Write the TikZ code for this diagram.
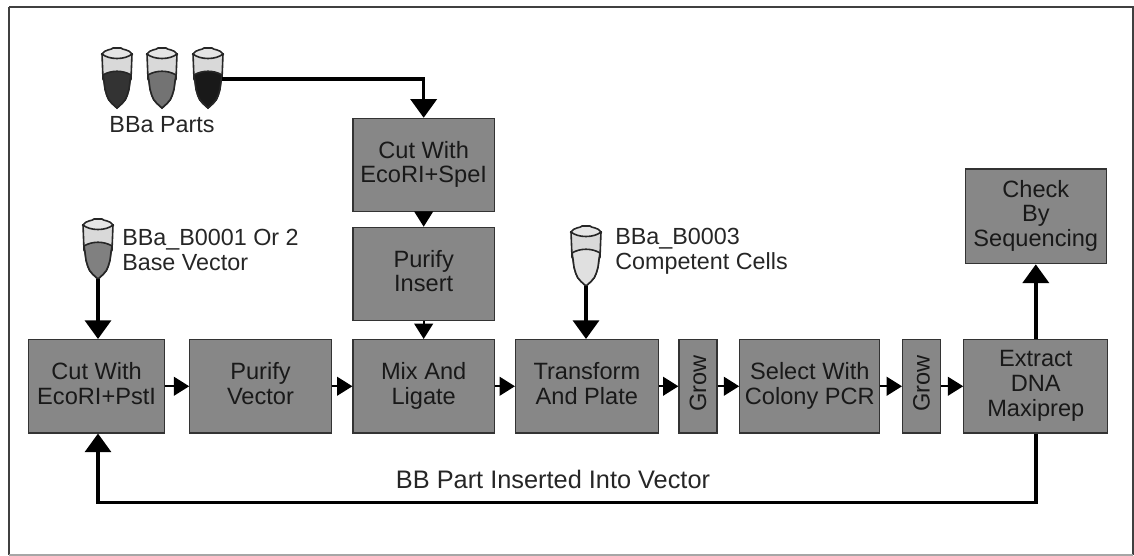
\documentclass[tikz,border=0pt]{standalone}
\usepackage{fontspec}
\setmainfont{Liberation Sans}
\usetikzlibrary{positioning}
\usetikzlibrary{arrows.meta}

\tikzset{
    pics/tube/.style={code={
        \draw[black!85, line width=1.2pt, fill=black!15] (-15,7) -- (-14,32) -- (-13,34) -- (-12,42) .. controls (-9,53) .. (0,61)
            .. controls (9,53) .. (12,42) -- (13,34) -- (14,32) -- (15,7) -- cycle;
        \draw[black!85, line width=1.2pt, fill=#1] (-14,28) .. controls (-6,23) and (6,23) .. (14,28) -- (13,34) -- (12,42)
            .. controls (9,53) .. (0,61) .. controls (-9,53) .. (-12,42) -- (-13,34) -- cycle;
        \draw[black!85, line width=1.2pt, fill=black!10] (-15,7) .. controls (-12,2) and (-5,3) .. (-4,1) -- (4,1)
            .. controls (5,3) and (12,2) .. (15,7) .. controls (8,13) and (-8,13) .. (-15,7) -- cycle;
        \coordinate (-side) at (14,32);
        \coordinate (-tip) at (0,61);
    }}
}

\begin{document}
\begin{tikzpicture}[x=0.75pt, y=-0.75pt,
    Step/.style={rectangle, draw=black!80, fill=black!47, line width=0.9pt, minimum height=70pt, minimum width=106pt,
                 text=black!90, text depth=4.5pt, align=center, font=\fontsize{17.7}{18.5}\selectfont},
    Note/.style={text=black!85, align=left, inner sep=0pt, font=\fontsize{17.5}{18.5}\selectfont},
    Big/.style={-{Triangle[width=19.5pt, length=14pt]}, black, line width=2.6pt},
    Small/.style={-{Triangle[width=14pt, length=11.5pt]}, black, line width=1.5pt}]

    \useasboundingbox (0,0) rectangle (1134,556);
    \draw[black!75, line width=1pt] (9,7) -- (1133,7) -- (1133,555);
    \draw[black!75, line width=1pt] (9,7) -- (9,555);
    \draw[black!35, line width=0.8pt] (9,555) -- (1133,555);

    \node[Step, minimum width=102pt, anchor=north west] (C1) at (28,339) {Cut With\\EcoRI+PstI};
    \node[Step, right = 18pt of C1] (P1) {Purify\\Vector};
    \node[Step, right = 15.5pt of P1] (M1) {Mix And\\Ligate};
    \node[Step, right = 15pt of M1, minimum width=107pt] (T1) {Transform\\And Plate};
    \node[Step, right = 14.7pt of T1, minimum width=28.5pt] (G1) {\rotatebox{90}{Grow}};
    \node[Step, right = 16.2pt of G1, minimum width=105pt] (S1) {Select With\\Colony PCR};
    \node[Step, right = 16.2pt of S1, minimum width=28.5pt] (G2) {\rotatebox{90}{Grow}};
    \node[Step, right = 16.5pt of G2, minimum width=108pt] (E1) {Extract\\DNA\\Maxiprep};

    \node[Step, above = 13.3pt of M1] (P2) {Purify\\Insert};
    \node[Step, above = 10.8pt of P2] (C2) {Cut With\\EcoRI+SpeI};
    \node[Step, above = 56pt of E1, minimum height=71pt] (K1) {Check\\By\\Sequencing};

    \pic (A1) at (117,47) {tube=black!80};
    \pic (A2) at (162,47) {tube=black!55};
    \pic (A3) at (208,47) {tube=black!90};
    \pic (A4) at (98,218) {tube=black!50};
    \pic (A5) at (586,225) {tube=black!12};

    \node[Note, anchor=north] (L1) at (162,116) {BBa Parts};
    \node[Note, anchor=west] (L2) at (122,250) {BBa\_B0001 Or 2\\Base Vector};
    \node[Note, anchor=west] (L3) at (615,251) {BBa\_B0003\\Competent Cells};
    \node[Note, font=\fontsize{19}{20}\selectfont] (L4) at (553,479) {BB Part Inserted Into Vector};

    \draw[Big] (A3-side) -| (C2.north);
    \draw[Big] (A4-tip) -- (A4-tip |- C1.north);
    \draw[Big] (A5-tip) -- (A5-tip |- T1.north);
    \draw[Big] (E1.north) -- (K1.south);
    \draw[Big] (E1.south) -- ++(0,69) -| (A4-tip |- C1.south);

    \draw[Small] (C2.south) -- (P2.north);
    \draw[Small] (P2.south) -- (M1.north);
    \draw[Small] (C1.east) -- (P1.west);
    \draw[Small] (P1.east) -- (M1.west);
    \draw[Small] (M1.east) -- (T1.west);
    \draw[Small] (T1.east) -- (G1.west);
    \draw[Small] (G1.east) -- (S1.west);
    \draw[Small] (S1.east) -- (G2.west);
    \draw[Small] (G2.east) -- (E1.west);
\end{tikzpicture}
\end{document}
